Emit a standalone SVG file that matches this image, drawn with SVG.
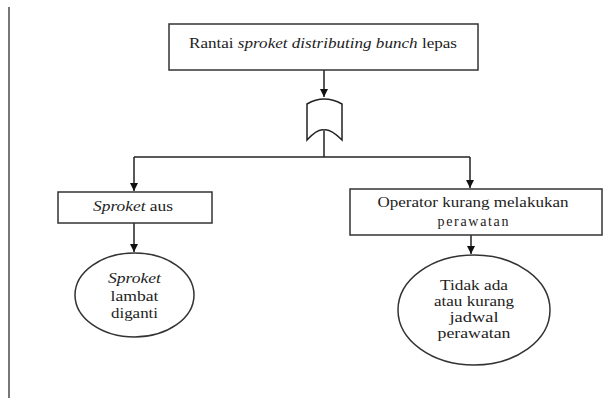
<svg xmlns="http://www.w3.org/2000/svg" width="609" height="398" viewBox="0 0 609 398">
<defs>
<marker id="arr" markerWidth="10" markerHeight="10" refX="9" refY="5" orient="auto" markerUnits="userSpaceOnUse">
<path d="M1,1 L9,5 L1,9 Z" fill="#111"/>
</marker>
<style>
.box{fill:#fff;stroke:#333;stroke-width:1.5}
.ln{fill:none;stroke:#222;stroke-width:1.5}
text{font-family:"Liberation Serif","Times New Roman",serif;font-size:14px;fill:#222;text-anchor:middle}
.i{font-style:italic}
</style>
</defs>
<rect width="609" height="398" fill="#fff"/>
<line x1="9" y1="7" x2="9" y2="398" stroke="#777" stroke-width="2"/>
<g id="connectors">
<line class="ln" x1="324" y1="70" x2="324" y2="97" marker-end="url(#arr)"/>
<polyline class="ln" points="324,131 324,157"/>
<polyline class="ln" points="134,157 470,157"/>
<line class="ln" x1="134" y1="157" x2="134" y2="191" marker-end="url(#arr)"/>
<line class="ln" x1="470" y1="157" x2="470" y2="188" marker-end="url(#arr)"/>
<line class="ln" x1="134" y1="223" x2="134" y2="252" marker-end="url(#arr)"/>
<line class="ln" x1="471" y1="235" x2="471" y2="254" marker-end="url(#arr)"/>
</g>
<g id="top">
<rect class="box" x="169" y="24" width="309" height="46"/>
<text x="323" y="48" textLength="268" lengthAdjust="spacingAndGlyphs">Rantai <tspan class="i">sproket distributing bunch</tspan> lepas</text>
</g>
<g id="gate">
<path class="ln" d="M307,140 L307,104 Q324,94 342,104 L342,140 Q330,128 324,130 Q318,128 307,140 Z" fill="#fff"/>
</g>
<g id="left-box">
<rect class="box" x="58" y="192" width="154" height="31"/>
<text x="133" y="211" textLength="80" lengthAdjust="spacingAndGlyphs"><tspan class="i">Sproket</tspan> aus</text>
</g>
<g id="right-box">
<rect class="box" x="350" y="189" width="252" height="46"/>
<text x="473" y="207" textLength="191" lengthAdjust="spacingAndGlyphs">Operator kurang melakukan</text>
<text x="473" y="226" textLength="71" lengthAdjust="spacing">perawatan</text>
</g>
<g id="left-ellipse">
<ellipse class="box" cx="134.5" cy="295" rx="59.5" ry="42"/>
<text class="i" x="134.5" y="283" textLength="53" lengthAdjust="spacingAndGlyphs">Sproket</text>
<text x="134.5" y="301" textLength="48" lengthAdjust="spacingAndGlyphs">lambat</text>
<text x="134.5" y="318" textLength="47" lengthAdjust="spacingAndGlyphs">diganti</text>
</g>
<g id="right-ellipse">
<ellipse class="box" cx="474" cy="310" rx="76" ry="55"/>
<text x="474" y="290" textLength="68" lengthAdjust="spacingAndGlyphs">Tidak ada</text>
<text x="474" y="306" textLength="80" lengthAdjust="spacingAndGlyphs">atau kurang</text>
<text x="474" y="322" textLength="49" lengthAdjust="spacingAndGlyphs">jadwal</text>
<text x="474" y="338" textLength="73" lengthAdjust="spacingAndGlyphs">perawatan</text>
</g>
</svg>
